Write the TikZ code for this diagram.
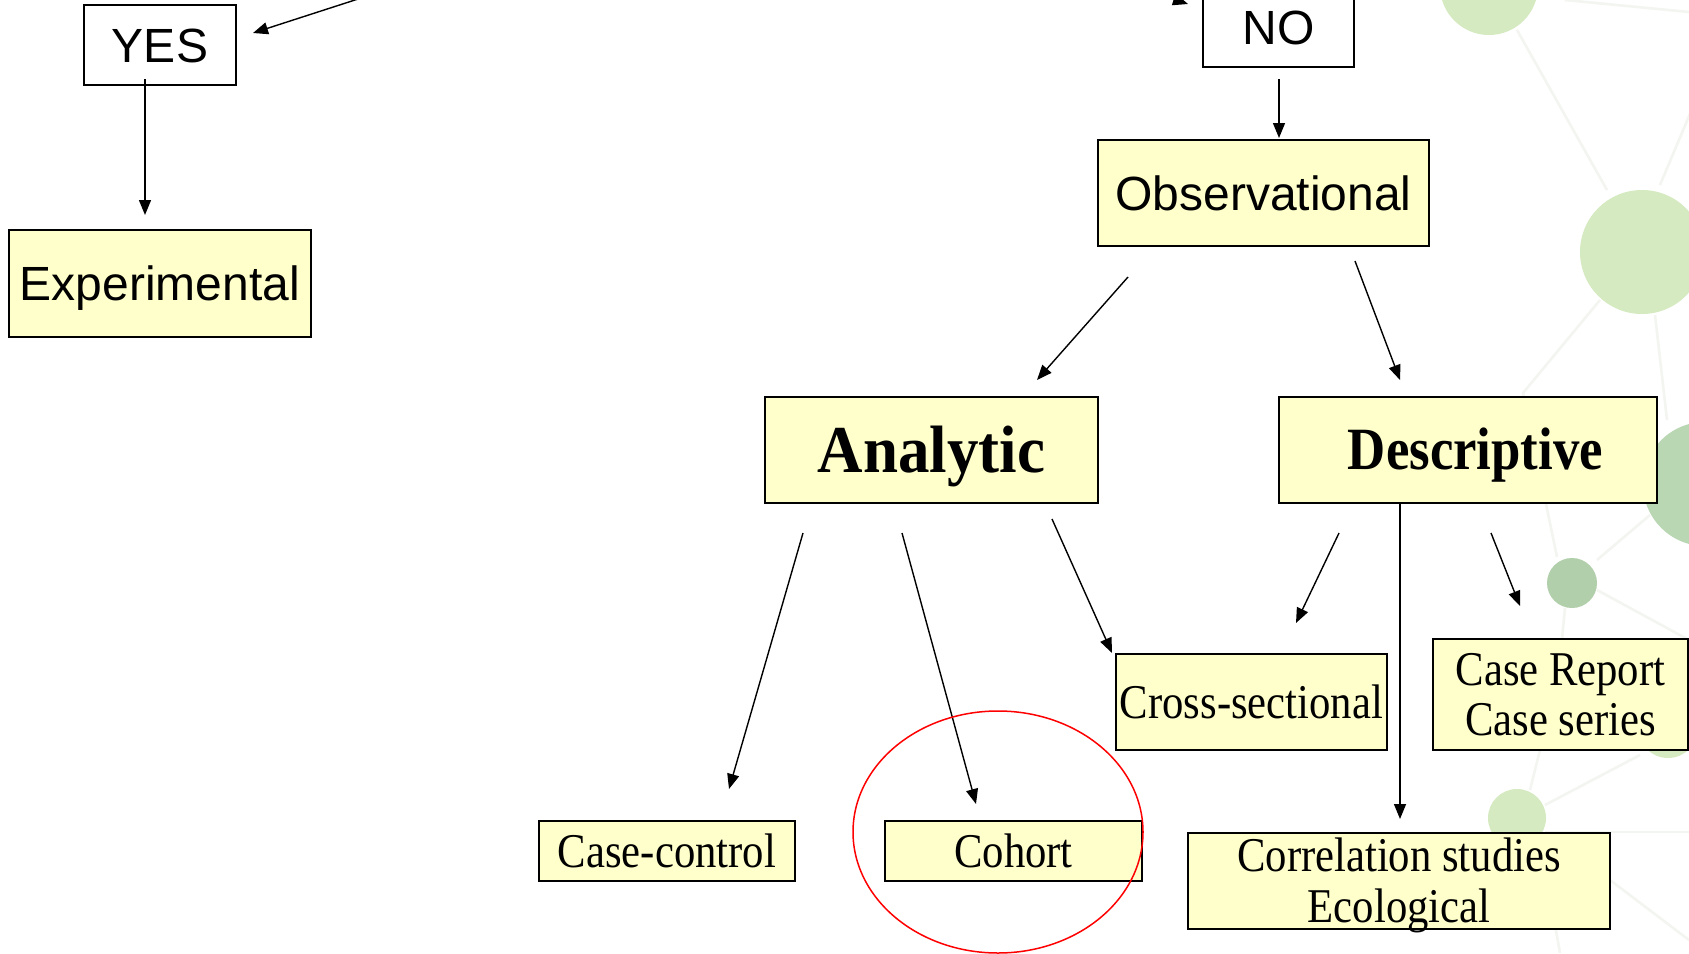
\documentclass[tikz,border=0pt]{standalone}
\usepackage{fontspec}
\usetikzlibrary{arrows.meta}
\newfontfamily\sansf{Liberation Sans}
\newfontfamily\serifc[FakeStretch=0.88]{Liberation Serif}
\newfontfamily\serifa[FakeStretch=0.94]{Liberation Serif}
\definecolor{boxyellow}{HTML}{FFFFCC}
\definecolor{lgreen}{HTML}{D5EAC0}
\definecolor{dgreen}{HTML}{B9D7B3}
\definecolor{mgreen}{HTML}{B0CFAA}
\definecolor{faint}{HTML}{F3F5F0}
\tikzset{
  ybox/.style={draw=black, line width=2pt, fill=boxyellow, inner sep=0pt, align=center},
  wbox/.style={draw=black, line width=1.5pt, fill=white, inner sep=0pt},
  sanstxt/.style={font=\sansf\fontsize{48}{56}\selectfont, text height=34.4pt, text depth=0pt},
  sertxt/.style={font=\serifc\fontsize{48.5}{50.6}\selectfont, text height=32.1pt, text depth=0pt},
  sertwo/.style={font=\serifc\fontsize{48.5}{50.6}\selectfont, text height=82.7pt, text depth=0pt},
  arr/.style={-{Triangle[length=15pt,width=12pt]}, line width=1.4pt},
  bgline/.style={draw=faint, line width=2.5pt},
}
\begin{document}
\begin{tikzpicture}[x=1pt,y=-1pt]
\useasboundingbox (0,0) rectangle (1689,953);
\clip (0,0) rectangle (1689,953);
\fill[white] (0,0) rectangle (1689,953);

% background decoration
\draw[bgline] (1517,30) -- (1607,190);
\draw[bgline] (1660,185) -- (1700,90);
\draw[bgline] (1565,0) -- (1689,12);
\draw[bgline] (1600,300) -- (1523,393) -- (1557,557);
\draw[bgline] (1597,560) -- (1650,515);
\draw[bgline] (1655,315) -- (1667,420);
\draw[bgline] (1597,590) -- (1689,640);
\draw[bgline] (1565,608) -- (1560,660);
\draw[bgline] (1530,790) -- (1540,750);
\draw[bgline] (1545,805) -- (1640,755);
\draw[bgline] (1545,832) -- (1689,832);
\draw[bgline] (1610,880) -- (1689,940);
\draw[bgline] (1555,925) -- (1560,953);
\fill[lgreen] (1489,-14) circle[radius=49];
\fill[lgreen] (1642,252) circle[radius=62];
\fill[dgreen] (1705,484) circle[radius=62];
\fill[mgreen] (1572,583) circle[radius=25];
\fill[lgreen] (1517,818) circle[radius=29];
\fill[lgreen] (1668,728) circle[radius=30];

% boxes
\node[wbox, sanstxt, minimum width=152pt, minimum height=80pt] (yes) at (160,45) {YES};
\node[wbox, sanstxt, minimum width=151pt, minimum height=79pt] (no) at (1278.5,27.5) {NO};
\node[ybox, sanstxt, minimum width=302pt, minimum height=107pt] (exp) at (160,283.5) {Experimental};
\node[ybox, sanstxt, minimum width=331pt, minimum height=106pt] (obs) at (1263.5,193) {Observational};
\node[ybox, font=\serifa\bfseries\fontsize{67}{75}\selectfont, text height=44.4pt, text depth=0pt,
      minimum width=333pt, minimum height=106pt] (ana) at (931.5,450) {Analytic};
\node[ybox, font=\serifc\bfseries\fontsize{60}{68}\selectfont, text height=39.7pt, text depth=0pt,
      minimum width=378pt, minimum height=106pt] (des) at (1468,450) {\hspace*{15pt}Descriptive};
\node[ybox, sertxt, minimum width=256pt, minimum height=60pt] (cc) at (667,851) {Case-control};
\node[ybox, sertxt, minimum width=257pt, minimum height=60pt] (coh) at (1013.5,851) {Cohort};
\node[ybox, sertxt, minimum width=271pt, minimum height=96pt] (cs) at (1251.5,702) {Cross-sectional};
\node[ybox, sertwo, minimum width=255pt, minimum height=111pt] (cr) at (1560.5,694.5) {Case Report\\Case series};
\node[ybox, sertwo, minimum width=422pt, minimum height=96pt] (corr) at (1399,881) {Correlation studies\\Ecological};

% connector end points
\coordinate (yesin) at (559,-66);
\coordinate (yestip) at (253,33);
\coordinate (yesout) at (145,79);
\coordinate (exptip) at (145,215);
\coordinate (noin) at (882,-95);
\coordinate (notip) at (1188,4);
\coordinate (noout) at (1279,79);
\coordinate (obstip) at (1279,138);
\coordinate (obsl) at (1128,277);
\coordinate (anatip) at (1037,380);
\coordinate (obsr) at (1355,261);
\coordinate (destip) at (1400,380);
\coordinate (ana1) at (803,533);
\coordinate (cctip) at (729,789);
\coordinate (ana2) at (902,533);
\coordinate (cohtip) at (976,804);
\coordinate (ana3) at (1052,519);
\coordinate (cstip1) at (1112,653);
\coordinate (des1) at (1339,533);
\coordinate (cstip2) at (1296,623);
\coordinate (des2) at (1400,503);
\coordinate (corrtip) at (1400,819);
\coordinate (des3) at (1491,533);
\coordinate (crtip) at (1520,606);

% connectors
\draw[arr] (yesin) -- (yestip);
\draw[arr] (yesout) -- (exptip);
\draw[arr] (noin) -- (notip);
\draw[arr] (noout) -- (obstip);
\draw[arr] (obsl) -- (anatip);
\draw[arr] (obsr) -- (destip);
\draw[arr] (ana1) -- (cctip);
\draw[arr] (ana2) -- (cohtip);
\draw[arr] (ana3) -- (cstip1);
\draw[arr] (des1) -- (cstip2);
\draw[arr] (des2) -- (corrtip);
\draw[arr] (des3) -- (crtip);

% red highlight
\draw[red, line width=1.5pt] (998,832) ellipse[x radius=145, y radius=121];
\end{tikzpicture}
\end{document}
